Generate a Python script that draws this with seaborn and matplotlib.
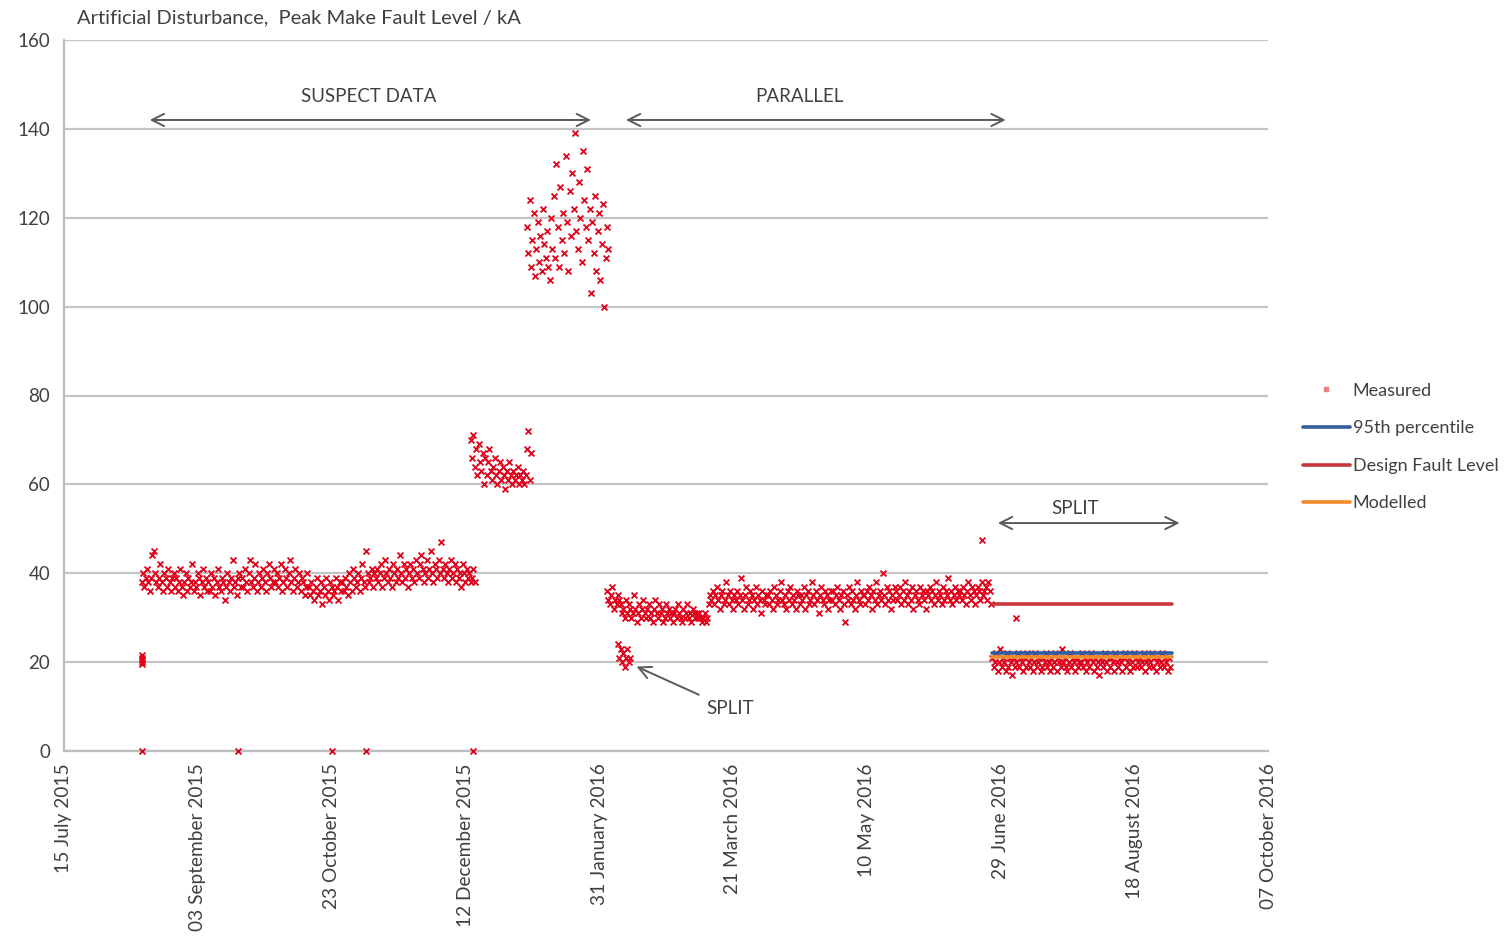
import pandas as pd
import matplotlib
matplotlib.use('Agg')
import matplotlib.pyplot as plt
from matplotlib.lines import Line2D
import matplotlib.dates as mdates
import seaborn as sns

# Measured readings, read off the chart. Each block is a run of readings
# taken every 12 hours from its start date.
suspect_start = '2015-08-13'
suspect_vals = [
    38, 40, 37, 39, 41, 38, 36, 39, 44, 45, 40, 38, 37, 39, 42, 38, 36, 40, 39, 37, 41, 38, 36, 39, 40,
    37, 39, 36, 38, 41, 37, 35, 38, 40, 36, 39, 37, 38, 42, 36, 38, 37, 40, 39, 35, 38, 41, 37, 39, 36,
    38, 36, 40, 37, 39, 35, 38, 41, 37, 36, 39, 38, 34, 37, 40, 38, 36, 39, 43, 37, 38, 35, 39, 40, 37,
    39, 37, 41, 38, 36, 40, 43, 38, 37, 39, 42, 36, 38, 40, 37, 39, 41, 38, 36, 40, 42, 39, 37, 38, 41,
    38, 40, 37, 39, 42, 36, 38, 41, 39, 37, 40, 43, 38, 36, 39, 41, 37, 38, 40, 36, 39, 38, 35, 37, 40,
    37, 35, 38, 36, 34, 37, 39, 35, 36, 38, 33, 37, 35, 39, 36, 34, 38, 37, 35, 36, 39, 37, 34, 38, 36,
    38, 36, 39, 37, 35, 40, 38, 36, 41, 39, 37, 38, 40, 36, 39, 42, 38, 37, 45, 40, 38, 39, 41, 37, 40,
    39, 41, 38, 40, 42, 37, 39, 43, 40, 38, 41, 39, 37, 42, 40, 38, 41, 39, 44, 40, 38, 42, 39, 41, 37,
    40, 42, 39, 41, 38, 43, 40, 39, 42, 44, 41, 38, 40, 43, 39, 41, 45, 40, 38, 42, 41, 39, 43, 40, 47,
    41, 39, 42, 40, 38, 41, 43, 39, 40, 42, 38, 41, 39, 40, 37, 42, 40, 38, 41, 39, 40, 38, 39, 41, 38,
]

dec_start = '2015-12-14'
dec_vals = [
    70, 66, 71, 64, 68, 62, 69, 65, 63, 67, 60, 66, 62, 65, 68, 63, 61, 64, 66, 62, 60, 63,
    65, 61, 64, 62, 59, 63, 61, 65, 62, 60, 63, 61, 62, 64, 60, 62, 61, 63, 60, 62, 68, 72, 61, 67,
]

jan_start = '2016-01-04'
jan_vals = [
    118, 112, 124, 109, 115, 121, 107, 113, 119, 110, 116, 108, 122, 114, 111, 117, 109, 106, 120, 113,
    125, 111, 132, 118, 109, 127, 115, 121, 112, 134, 119, 108, 126, 116, 130, 122, 139, 117, 113, 128,
    120, 110, 135, 124, 118, 131,
    115, 122, 103, 119, 112, 125, 108, 117, 121, 106, 114, 123, 100, 111, 118, 113,
]

split_feb_start = '2016-02-07'
split_feb_vals = [24, 21, 23, 20, 22, 19, 21, 23, 20, 21]

feb_start = '2016-02-03'
feb_vals = [
    36, 34, 33, 35, 37, 32, 34, 33, 35, 34,
    33, 31, 32, 30, 34, 31, 33, 32, 30, 31, 35, 32, 29, 31, 33, 30, 32, 34, 31, 30,
    32, 33, 30, 31, 29, 32, 34, 31, 30, 33, 31, 32, 29, 30, 33, 31, 32, 30, 31, 29,
    31, 32, 30, 33, 31, 30, 29, 32, 30, 31, 33, 30, 31, 29, 32, 31, 30, 31, 30, 31, 30, 29,
]

parallel_start = '2016-03-10'
parallel_vals = [
    30, 31, 29, 30, 33, 35, 34, 36, 33, 35, 37, 34, 32, 35, 36, 33, 34, 38, 35, 33, 36, 34, 32, 35,
    34, 36, 33, 35, 39, 34, 32, 35, 37, 33, 34, 36, 35, 32, 34, 37, 33, 35, 34, 31, 36, 34, 33, 35,
    35, 33, 36, 34, 32, 37, 35, 33, 34, 36, 38, 34, 33, 35, 32, 36, 34, 37, 33, 35, 34, 32, 36, 35,
    33, 35, 34, 37, 32, 35, 36, 33, 34, 38, 35, 33, 36, 34, 31, 35, 37, 34, 33, 36, 35, 32, 34, 36,
    34, 36, 33, 35, 37, 34, 32, 35, 36, 33, 29, 35, 34, 37, 33, 36, 34, 32, 35, 38, 34, 33, 36, 35,
    35, 33, 36, 34, 37, 35, 32, 36, 34, 38, 33, 35, 36, 34, 40, 35, 33, 37, 34, 36, 32, 35, 34, 37,
    36, 34, 35, 37, 33, 36, 34, 38, 35, 33, 36, 34, 37, 32, 35, 36, 34, 33, 37, 35, 36, 34, 32, 36,
    35, 37, 34, 36, 33, 35, 38, 34, 36, 35, 33, 37, 34, 36, 35, 39, 34, 36, 33, 35, 37, 34, 36, 35,
    36, 34, 37, 35, 33, 36, 38, 35, 34, 37, 36, 33, 35, 37, 36, 34, 38, 35, 36, 37, 34, 38, 36, 33,
]

split_start = '2016-06-26'
split_vals = [
    21, 19, 20, 22, 18, 20, 23, 19, 21, 20, 18, 22, 19, 21, 20, 17, 21, 19, 20, 22, 19, 21,
    20, 18, 21, 19, 22, 20, 19, 21, 18, 20, 22, 19, 20, 21, 18, 19, 21, 20, 22, 19, 20, 18,
    21, 19, 20, 22, 18, 21, 20, 19, 23, 20, 21, 19, 18, 20, 22, 19, 21, 20, 18, 21, 19, 20,
    20, 22, 19, 21, 18, 20, 19, 21, 22, 20, 18, 21, 19, 20, 17, 21, 20, 19, 22, 20, 18, 21,
    19, 21, 20, 18, 22, 20, 19, 21, 20, 18, 21, 22, 19, 20, 21, 18, 20, 19, 22, 21, 19, 20,
    21, 19, 20, 22, 18, 20, 21, 19, 20, 22, 19, 21, 18, 20, 21, 19, 20, 22, 19, 21, 20, 18, 21, 19,
]

# isolated readings (zeros on the axis, early low cluster, outliers)
single_dates = ['2015-08-13', '2015-08-13', '2015-08-13', '2015-08-13', '2015-08-13', '2015-08-13',
                '2015-09-18', '2015-10-23', '2015-11-05', '2015-12-15', '2016-06-22', '2016-07-05']
single_vals = [0, 20, 21, 19.5, 20.5, 21.5, 0, 0, 0, 0, 47.5, 30]

# horizontal reference levels over the split period
level_dates = ['2016-06-26', '2016-09-01']
p95_level = 22.0
design_level = 33.0
modelled_level = 21.1

tick_dates = ['2015-07-15', '2015-09-03', '2015-10-23', '2015-12-12', '2016-01-31',
              '2016-03-21', '2016-05-10', '2016-06-29', '2016-08-18', '2016-10-07']


def block(start, vals):
    return pd.DataFrame({'date': pd.date_range(start, periods=len(vals), freq='12h'),
                         'value': vals})


measured = pd.concat([
    block(suspect_start, suspect_vals),
    block(dec_start, dec_vals),
    block(jan_start, jan_vals),
    block(split_feb_start, split_feb_vals),
    block(feb_start, feb_vals),
    block(parallel_start, parallel_vals),
    block(split_start, split_vals),
    pd.DataFrame({'date': pd.to_datetime(single_dates), 'value': single_vals}),
], ignore_index=True)

levels = pd.DataFrame({
    'date': pd.to_datetime(level_dates * 3),
    'value': [design_level] * 2 + [p95_level] * 2 + [modelled_level] * 2,
    'series': ['Design Fault Level'] * 2 + ['95th percentile'] * 2 + ['Modelled'] * 2,
})

RED = '#e2001a'
BLUE = '#2f5d9e'
DESIGN = '#c8373c'
ORANGE = '#f28a2e'
GREY_TXT = '#404040'

sns.set_style('white')
plt.rcParams['font.family'] = ['Lato', 'DejaVu Sans']

fig = plt.figure(figsize=(15.07, 9.36), dpi=100)
ax = fig.add_axes([64 / 1507, 1 - 751 / 936, (1268 - 64) / 1507, (751 - 40) / 936])

sns.scatterplot(data=measured, x='date', y='value', marker='x', s=18, color=RED,
                linewidth=1.3, ax=ax, clip_on=False, zorder=3)
sns.lineplot(data=levels, x='date', y='value', hue='series',
             palette={'Design Fault Level': DESIGN, '95th percentile': BLUE, 'Modelled': ORANGE},
             linewidth=2.6, legend=False, ax=ax, zorder=4)

# axes
ax.set_ylim(0, 160)
ax.set_yticks(range(0, 161, 20))
ax.set_xlim(pd.Timestamp(tick_dates[0]), pd.Timestamp(tick_dates[-1]))
ax.set_xticks(pd.to_datetime(tick_dates))
ax.xaxis.set_major_formatter(mdates.DateFormatter('%d %B %Y'))
plt.setp(ax.get_xticklabels(), rotation=90)
ax.set_xlabel('')
ax.set_ylabel('')
ax.grid(axis='y', color='#c4c4c4', linewidth=1.6, zorder=0)
ax.set_axisbelow(True)
for side in ['top', 'right']:
    ax.spines[side].set_visible(False)
for side in ['left', 'bottom']:
    ax.spines[side].set_color('#bdbdbd')
    ax.spines[side].set_linewidth(1.6)
ax.tick_params(axis='x', length=5, width=1.2, color='#bdbdbd', labelsize=13.8, labelcolor=GREY_TXT, pad=4)
ax.tick_params(axis='y', length=5, width=1.2, color='#bdbdbd', labelsize=13.5, labelcolor=GREY_TXT, pad=5)

fig.text(77 / 1507, 1 - 18 / 936, 'Artificial Disturbance,  Peak Make Fault Level / kA',
         fontsize=14.5, color=GREY_TXT, va='center', ha='left')

# annotations
arrow_kw = dict(arrowstyle='<->', color='#5a5a5a', lw=1.4, mutation_scale=22)
ax.annotate('', xy=(pd.Timestamp('2016-01-29'), 142), xytext=(pd.Timestamp('2015-08-15'), 142),
            arrowprops=arrow_kw)
ax.text(pd.Timestamp('2015-11-06'), 147.3, 'SUSPECT DATA', ha='center', va='center',
        fontsize=13.5, color=GREY_TXT)
ax.annotate('', xy=(pd.Timestamp('2016-07-02'), 142), xytext=(pd.Timestamp('2016-02-09'), 142),
            arrowprops=arrow_kw)
ax.text(pd.Timestamp('2016-04-15'), 147.3, 'PARALLEL', ha='center', va='center',
        fontsize=13.5, color=GREY_TXT)
ax.annotate('', xy=(pd.Timestamp('2016-09-05'), 51.3), xytext=(pd.Timestamp('2016-06-27'), 51.3),
            arrowprops=arrow_kw)
ax.text(pd.Timestamp('2016-07-27'), 54.5, 'SPLIT', ha='center', va='center',
        fontsize=13.5, color=GREY_TXT)
ax.annotate('SPLIT', xy=(pd.Timestamp('2016-02-14'), 19), xytext=(pd.Timestamp('2016-03-11'), 9.5),
            ha='left', va='center', fontsize=13.5, color=GREY_TXT,
            arrowprops=dict(arrowstyle='->', color='#5a5a5a', lw=1.4, mutation_scale=22,
                            shrinkA=4, shrinkB=0))

# legend
handles = [
    Line2D([], [], linestyle='none', marker='s', markersize=3, color='#f08080'),
    Line2D([], [], color=BLUE, linewidth=2.6),
    Line2D([], [], color=DESIGN, linewidth=2.6),
    Line2D([], [], color=ORANGE, linewidth=2.6),
]
labels = ['Measured', '95th percentile', 'Design Fault Level', 'Modelled']
leg = fig.legend(handles, labels, loc='center left', bbox_to_anchor=(1303 / 1507, 1 - 447 / 936),
                 frameon=False, fontsize=13, handlelength=2.6, handletextpad=0.15,
                 labelspacing=1.2, borderpad=0, borderaxespad=0)
for t in leg.get_texts():
    t.set_color(GREY_TXT)

fig.savefig('out.png', dpi=100)
